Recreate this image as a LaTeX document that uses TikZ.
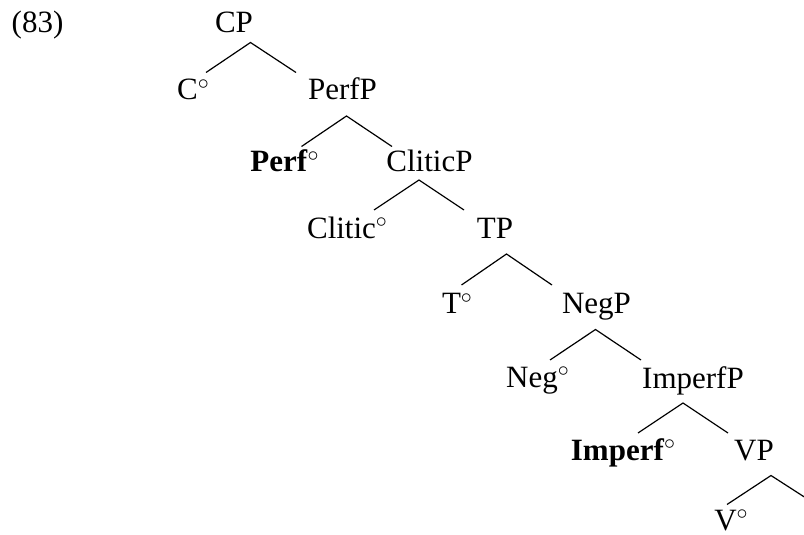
\documentclass[tikz,border=0pt]{standalone}
\usepackage{fontspec}
\setmainfont{Liberation Serif}
\usepackage{tikz}
\tikzset{
  every node/.style={
    text=black, inner sep=0pt, anchor=base,
    font=\fontsize{15.5}{18}\selectfont
  },
  branch/.style={black, line width=0.6pt}
}

\begin{document}
\begin{tikzpicture}[x=0.5pt,y=-0.5pt]
    %\draw[gray, very thin] (0,0) grid[step=50] (804,535);
    \clip (0,0) rectangle (804,535);
    \useasboundingbox (0,0) rectangle (804,535);
    \node (ex) at (37.5,33) {(83)};
    % labels
    \node (cp) at (234,33) {CP};
    \node (c) at (193.5,100) {C$^\circ$};
    \node (perfp) at (342.5,100) {PerfP};
    \node (perf) at (285,172) {\textbf{Perf}$^\circ$};
    \node (cliticp) at (429.5,172) {CliticP};
    \node (clitic) at (347.5,238) {Clitic$^\circ$};
    \node (tp) at (495,239) {TP};
    \node (t) at (457.5,314) {T$^\circ$};
    \node (negp) at (596.5,314) {NegP};
    \node (neg) at (538,387) {Neg$^\circ$};
    \node (imperfp) at (693,388) {ImperfP};
    \node (imperf) at (623.5,460) {\textbf{Imperf}$^\circ$};
    \node (vp) at (754,460) {VP};
    \node (v) at (731.5,530) {V$^\circ$};
    % branch tops
    \coordinate (cp-top) at (250.5,42.5);
    \coordinate (perfp-top) at (346.5,116);
    \coordinate (cliticp-top) at (419,180);
    \coordinate (tp-top) at (506.5,254);
    \coordinate (negp-top) at (595.5,329.5);
    \coordinate (imperfp-top) at (683,403);
    \coordinate (vp-top) at (771,475.5);
    % branch ends
    \coordinate (c-end) at (206,72.5);
    \coordinate (perfp-end) at (296,72.5);
    \coordinate (perf-end) at (301.5,146.5);
    \coordinate (cliticp-end) at (392,146.5);
    \coordinate (clitic-end) at (374,210);
    \coordinate (tp-end) at (464,210);
    \coordinate (t-end) at (461.5,285);
    \coordinate (negp-end) at (552,285);
    \coordinate (neg-end) at (550,360);
    \coordinate (imperfp-end) at (641,360);
    \coordinate (imperf-end) at (638,433);
    \coordinate (vp-end) at (728,433);
    \coordinate (v-end) at (727,504.5);
    \coordinate (vcomp-end) at (816,504.5);
    \draw[branch] (c-end) -- (cp-top) -- (perfp-end);
    \draw[branch] (perf-end) -- (perfp-top) -- (cliticp-end);
    \draw[branch] (clitic-end) -- (cliticp-top) -- (tp-end);
    \draw[branch] (t-end) -- (tp-top) -- (negp-end);
    \draw[branch] (neg-end) -- (negp-top) -- (imperfp-end);
    \draw[branch] (imperf-end) -- (imperfp-top) -- (vp-end);
    \draw[branch] (v-end) -- (vp-top) -- (vcomp-end);

\end{tikzpicture}
\end{document}
